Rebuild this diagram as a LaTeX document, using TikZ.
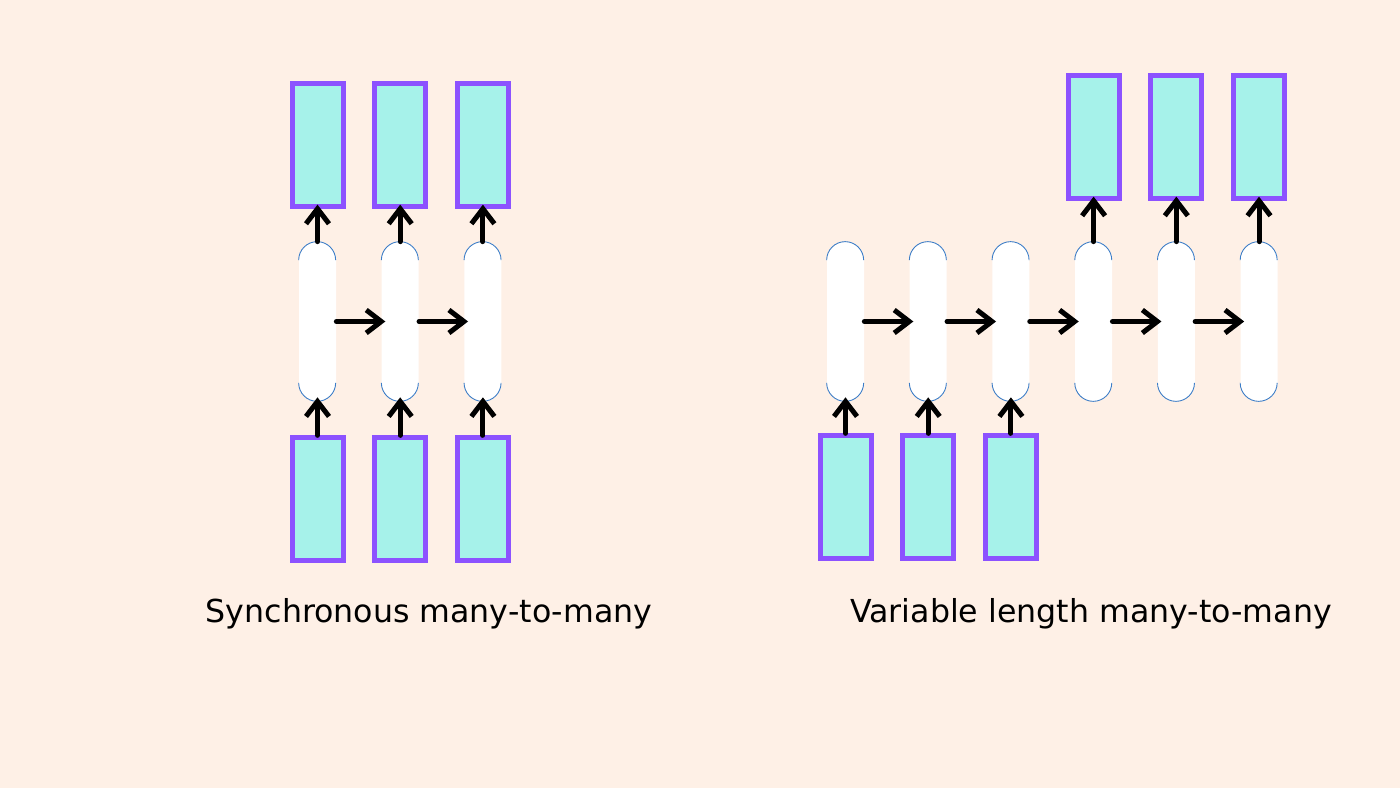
\documentclass[tikz,border=0pt]{standalone}
\usepackage{fontspec}
\setmainfont{DejaVu Sans}
\usepackage{tikz}
\usetikzlibrary{positioning, arrows.meta}
\definecolor{bgcol}{HTML}{FEF0E6}
\definecolor{boxfill}{HTML}{A6F2EA}
\definecolor{boxline}{HTML}{8C52FF}
\definecolor{capblue}{HTML}{3B7DC8}
\tikzstyle{vec} = [rectangle, fill=boxfill, draw=boxline, line width=0.1cm, minimum width=1.02cm, minimum height=2.46cm, inner sep=0pt]
\tikzstyle{cell} = [rectangle, fill=white, rounded corners=0.37cm, minimum width=0.74cm, minimum height=3.18cm, inner sep=0pt]
\tikzstyle{capline} = [draw=capblue, line width=0.5pt]
\tikzstyle{arrow} = [line width=0.1cm, line cap=round, shorten >=-0.08cm, -{Straight Barb[length=0.3cm, width=0.46cm, line width=0.1cm]}]
\tikzstyle{caption} = [font=\fontsize{18}{20}\selectfont, text=black]
\newcommand{\cellcaps}[1]{%
  \draw[capline] ([yshift=-0.37cm]#1.north west) arc[start angle=180, end angle=0, radius=0.37cm];
  \draw[capline] ([yshift=0.37cm]#1.south west) arc[start angle=180, end angle=360, radius=0.37cm];}

\begin{document}
\begin{tikzpicture}
\fill[bgcol] (0,0) rectangle (28,15.76);
\useasboundingbox (0,0) rectangle (28,15.76);

% synchronous many-to-many
\node (cell1)   [cell] at (6.35,9.33)          {};
\node (cell2)   [cell, right=0.9cm of cell1]   {};
\node (cell3)   [cell, right=0.9cm of cell2]   {};
\node (out1)    [vec, above=0.66cm of cell1]   {};
\node (out2)    [vec, above=0.66cm of cell2]   {};
\node (out3)    [vec, above=0.66cm of cell3]   {};
\node (in1)     [vec, below=0.68cm of cell1]   {};
\node (in2)     [vec, below=0.68cm of cell2]   {};
\node (in3)     [vec, below=0.68cm of cell3]   {};
\node (sync)    [caption] at (8.58,3.48)       {Synchronous many-to-many};

\cellcaps{cell1}
\cellcaps{cell2}
\cellcaps{cell3}

\draw [arrow] (in1.north) -- (cell1.south);
\draw [arrow] (in2.north) -- (cell2.south);
\draw [arrow] (in3.north) -- (cell3.south);
\draw [arrow] (cell1.north) -- (out1.south);
\draw [arrow] (cell2.north) -- (out2.south);
\draw [arrow] (cell3.north) -- (out3.south);
\draw [arrow] (cell1.east) -- (cell2.west);
\draw [arrow] (cell2.east) -- (cell3.west);

% variable length many-to-many
\node (rcell1)  [cell] at (16.91,9.33)         {};
\node (rcell2)  [cell, right=0.9cm of rcell1]  {};
\node (rcell3)  [cell, right=0.9cm of rcell2]  {};
\node (rcell4)  [cell, right=0.9cm of rcell3]  {};
\node (rcell5)  [cell, right=0.9cm of rcell4]  {};
\node (rcell6)  [cell, right=0.9cm of rcell5]  {};
\node (rin1)    [vec, below=0.64cm of rcell1]  {};
\node (rin2)    [vec, below=0.64cm of rcell2]  {};
\node (rin3)    [vec, below=0.64cm of rcell3]  {};
\node (rout4)   [vec, above=0.82cm of rcell4]  {};
\node (rout5)   [vec, above=0.82cm of rcell5]  {};
\node (rout6)   [vec, above=0.82cm of rcell6]  {};
\node (varlen)  [caption] at (21.82,3.48)      {Variable length many-to-many};

\cellcaps{rcell1}
\cellcaps{rcell2}
\cellcaps{rcell3}
\cellcaps{rcell4}
\cellcaps{rcell5}
\cellcaps{rcell6}

\draw [arrow] (rin1.north) -- (rcell1.south);
\draw [arrow] (rin2.north) -- (rcell2.south);
\draw [arrow] (rin3.north) -- (rcell3.south);
\draw [arrow] (rcell1.east) -- (rcell2.west);
\draw [arrow] (rcell2.east) -- (rcell3.west);
\draw [arrow] (rcell3.east) -- (rcell4.west);
\draw [arrow] (rcell4.east) -- (rcell5.west);
\draw [arrow] (rcell5.east) -- (rcell6.west);
\draw [arrow] (rcell4.north) -- (rout4.south);
\draw [arrow] (rcell5.north) -- (rout5.south);
\draw [arrow] (rcell6.north) -- (rout6.south);

\end{tikzpicture}
\end{document}
